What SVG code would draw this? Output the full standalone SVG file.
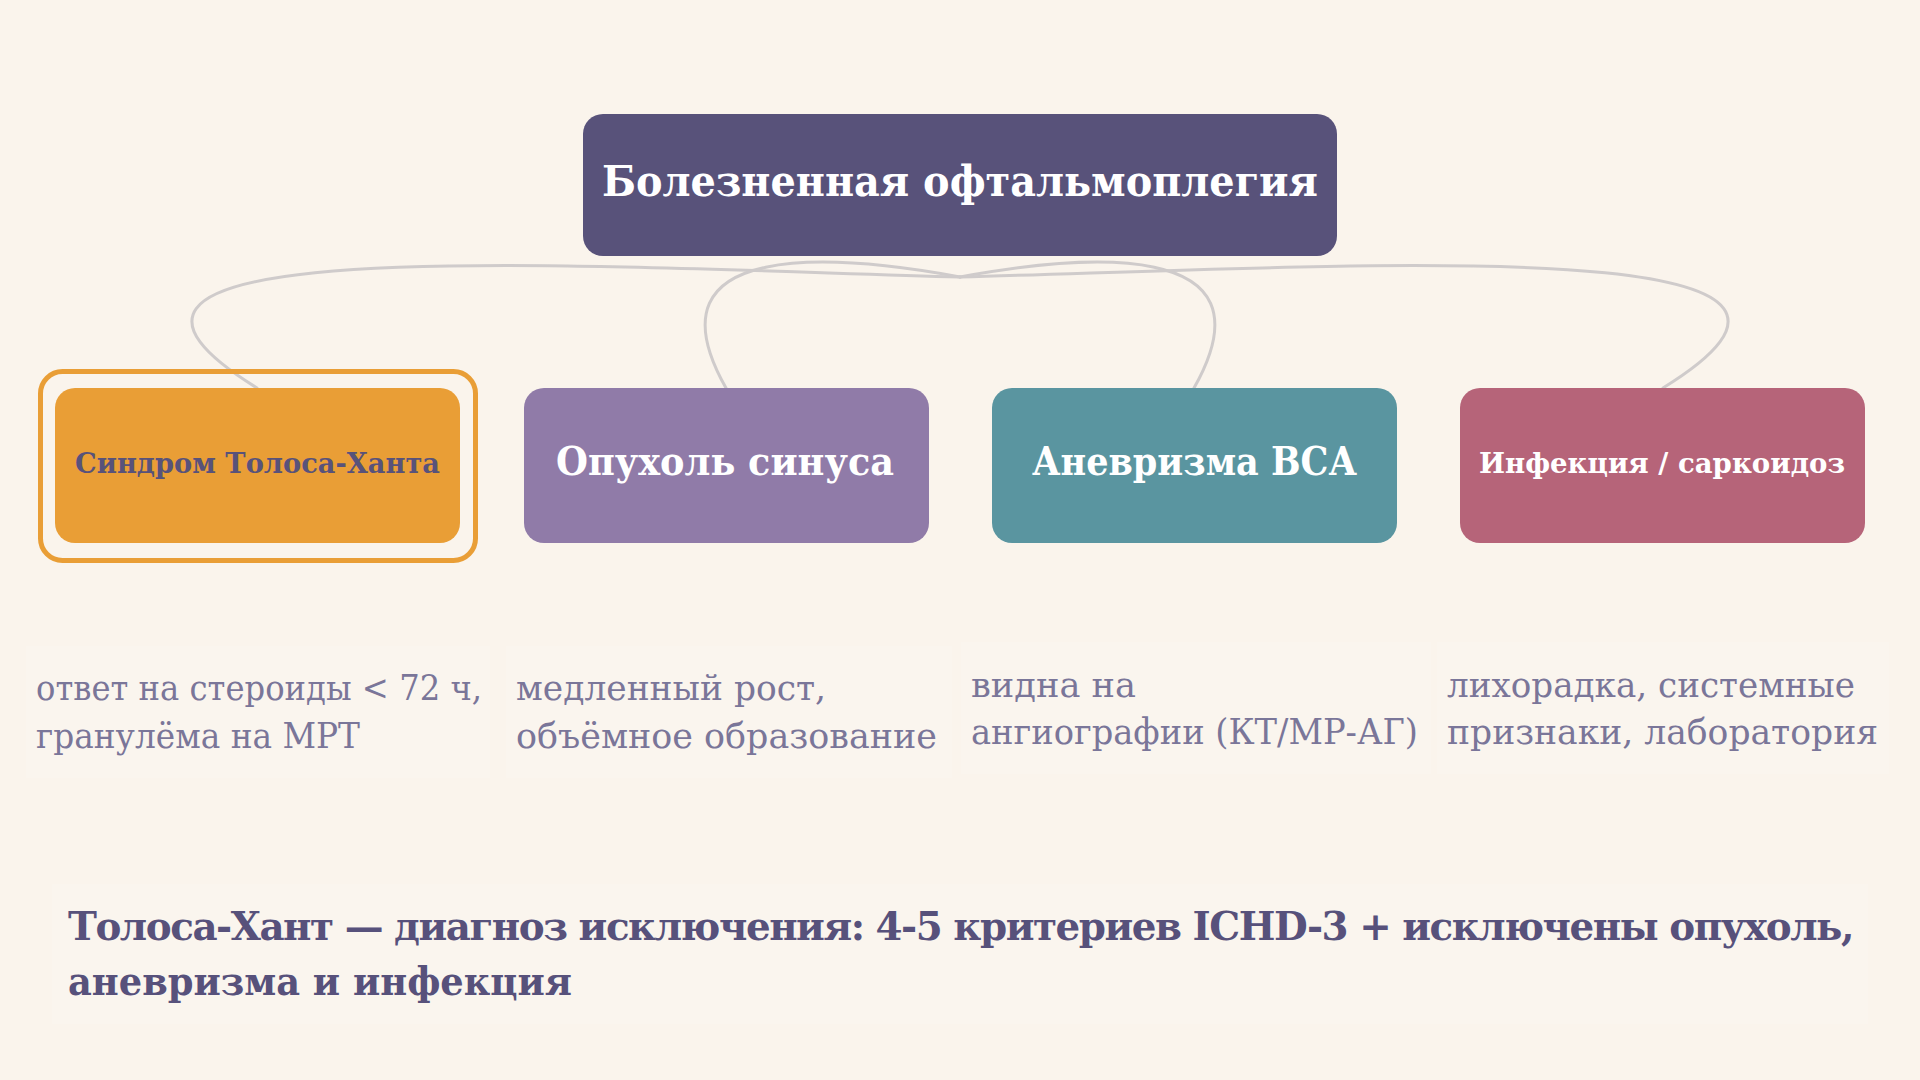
<svg xmlns="http://www.w3.org/2000/svg" width="1920" height="1080" viewBox="0 0 1920 1080">
  <style>
    text { font-family: "DejaVu Serif", "Liberation Serif", serif; }
    .node-title { fill: #58527A; }
    .t-white { fill: #FFFFFF; font-weight: bold; }
    .t-dark { fill: #58527A; font-weight: bold; }
    .desc { fill: #7A7699; font-size: 36px; }
    .desc-bg { fill: #FFFFFF; fill-opacity: 0.1; }
    .conn { fill: none; stroke: #CFCBCB; stroke-width: 3; stroke-linecap: round; }
    .summary { fill: #57517B; font-weight: bold; font-size: 40px; }
  </style>
  <rect x="0" y="0" width="1920" height="1080" fill="#FAF4EC"/>

  <g id="connectors">
    <path class="conn" d="M960 277 C560 266 0 230 257 388"/>
    <path class="conn" d="M960 277 C840 255 640 236 726 388"/>
    <path class="conn" d="M960 277 C1080 255 1280 236 1194 388"/>
    <path class="conn" d="M960 277 C1360 266 1920 230 1663 388"/>
  </g>

  <g id="node-root">
    <rect class="node-title" x="583" y="114" width="754" height="142" rx="20"/>
    <text class="t-white" x="960" y="196" font-size="42" text-anchor="middle" textLength="716" lengthAdjust="spacingAndGlyphs">Болезненная офтальмоплегия</text>
  </g>

  <g id="node-tolosa">
    <rect x="40.5" y="371.5" width="435" height="189" rx="22" fill="none" stroke="#E99E36" stroke-width="5"/>
    <rect x="55" y="388" width="405" height="155" rx="20" fill="#E99E36"/>
    <text class="t-dark" x="257.5" y="473" font-size="28" text-anchor="middle" textLength="365" lengthAdjust="spacingAndGlyphs">Синдром Толоса-Ханта</text>
  </g>

  <g id="node-tumor">
    <rect x="524" y="388" width="405" height="155" rx="20" fill="#907BA8"/>
    <text class="t-white" x="725" y="475" font-size="39" text-anchor="middle" textLength="338" lengthAdjust="spacingAndGlyphs">Опухоль синуса</text>
  </g>

  <g id="node-aneurysm">
    <rect x="992" y="388" width="405" height="155" rx="20" fill="#5A95A0"/>
    <text class="t-white" x="1194.5" y="475" font-size="39" text-anchor="middle" textLength="325" lengthAdjust="spacingAndGlyphs">Аневризма ВСА</text>
  </g>

  <g id="node-infection">
    <rect x="1460" y="388" width="405" height="155" rx="20" fill="#B66479"/>
    <text class="t-white" x="1662" y="473" font-size="28" text-anchor="middle" textLength="366" lengthAdjust="spacingAndGlyphs">Инфекция / саркоидоз</text>
  </g>

  <g id="desc-tolosa">
    <rect class="desc-bg" x="26" y="646" width="464" height="132"/>
    <text class="desc" x="36" y="700" textLength="446" lengthAdjust="spacingAndGlyphs">ответ на стероиды &lt; 72 ч,</text>
    <text class="desc" x="36" y="748" textLength="324" lengthAdjust="spacingAndGlyphs">гранулёма на МРТ</text>
  </g>

  <g id="desc-tumor">
    <rect class="desc-bg" x="506" y="646" width="446" height="132"/>
    <text class="desc" x="516" y="700" textLength="310" lengthAdjust="spacingAndGlyphs">медленный рост,</text>
    <text class="desc" x="516" y="748" textLength="421" lengthAdjust="spacingAndGlyphs">объёмное образование</text>
  </g>

  <g id="desc-aneurysm">
    <rect class="desc-bg" x="961" y="642" width="470" height="132"/>
    <text class="desc" x="971" y="697" textLength="165" lengthAdjust="spacingAndGlyphs">видна на</text>
    <text class="desc" x="971" y="744" textLength="447" lengthAdjust="spacingAndGlyphs">ангиографии (КТ/МР-АГ)</text>
  </g>

  <g id="desc-infection">
    <rect class="desc-bg" x="1437" y="642" width="452" height="132"/>
    <text class="desc" x="1447" y="697" textLength="408" lengthAdjust="spacingAndGlyphs">лихорадка, системные</text>
    <text class="desc" x="1447" y="744" textLength="431" lengthAdjust="spacingAndGlyphs">признаки, лаборатория</text>
  </g>

  <g id="summary">
    <rect class="desc-bg" x="52" y="884" width="1816" height="140"/>
    <text class="summary" x="68" y="940" letter-spacing="-1.5" textLength="1785" lengthAdjust="spacingAndGlyphs">Толоса-Хант — диагноз исключения: 4-5 критериев ICHD-3 + исключены опухоль,</text>
    <text class="summary" x="68" y="995" textLength="504" lengthAdjust="spacingAndGlyphs">аневризма и инфекция</text>
  </g>
</svg>
